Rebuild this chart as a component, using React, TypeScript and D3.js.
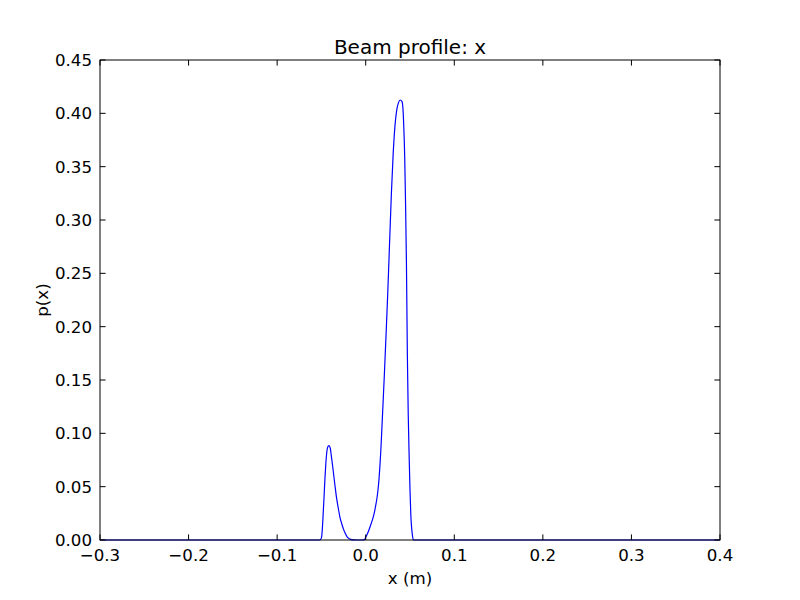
import React from "react";
import * as d3 from "d3";

const xs = [-0.3, -0.052, -0.05, -0.049, -0.048, -0.047, -0.046, -0.045, -0.044, -0.043, -0.0415, -0.04, -0.039, -0.037, -0.035, -0.033, -0.031, -0.029, -0.027, -0.025, -0.023, -0.021, -0.019, -0.017, -0.014, -0.01, -0.004, -0.001, 0.0, 0.003, 0.006, 0.009, 0.011, 0.013, 0.014, 0.015, 0.016, 0.017, 0.018, 0.019, 0.02, 0.021, 0.023, 0.025, 0.027, 0.029, 0.031, 0.033, 0.035, 0.037, 0.039, 0.041, 0.042, 0.043, 0.044, 0.045, 0.046, 0.047, 0.048, 0.049, 0.05, 0.051, 0.052, 0.053, 0.0537, 0.4];
const ps = [0, 0, 0.002, 0.01, 0.025, 0.041, 0.058, 0.072, 0.082, 0.087, 0.0885, 0.086, 0.08, 0.067, 0.053, 0.04, 0.03, 0.021, 0.015, 0.01, 0.006, 0.003, 0.0015, 0.0006, 0.0001, 0, 0, 0.0008, 0.0025, 0.008, 0.015, 0.023, 0.031, 0.041, 0.048, 0.057, 0.069, 0.083, 0.1, 0.118, 0.136, 0.154, 0.193, 0.234, 0.28, 0.325, 0.362, 0.388, 0.403, 0.41, 0.4125, 0.411, 0.405, 0.387, 0.36, 0.315, 0.258, 0.175, 0.118, 0.08, 0.047, 0.022, 0.01, 0.003, 0, 0];

const xTicks = [-0.3, -0.2, -0.1, 0.0, 0.1, 0.2, 0.3, 0.4];
const yTicks = [0.0, 0.05, 0.1, 0.15, 0.2, 0.25, 0.3, 0.35, 0.4, 0.45];

export default function App() {
  const W = 800, H = 600;
  const L = 100, R = 720, T = 60, B = 540;
  const x = d3.scaleLinear().domain([-0.3, 0.4]).range([L, R]);
  const y = d3.scaleLinear().domain([0, 0.45]).range([B, T]);
  const pts: [number, number][] = xs.map((v, i) => [v, ps[i]]);
  const line = d3.line<[number, number]>().x(d => x(d[0])).y(d => y(d[1])).curve(d3.curveMonotoneX);
  const font = "'DejaVu Sans', sans-serif";
  const tl = 5.6;
  return (
    <svg width={W} height={H} style={{ position: "absolute", left: 0, top: 0 }} fontFamily={font}>
      <rect width={W} height={H} fill="#fff" />
      <path d={line(pts) || ""} fill="none" stroke="#0000ff" strokeWidth={1.2} />
      <rect x={L} y={T} width={R - L} height={B - T} fill="none" stroke="#000" strokeWidth={1} />
      {xTicks.map(t => (
        <g key={"x" + t}>
          <line x1={x(t)} x2={x(t)} y1={B} y2={B - tl} stroke="#000" />
          <line x1={x(t)} x2={x(t)} y1={T} y2={T + tl} stroke="#000" />
          <text x={x(t)} y={B + 8} dy="0.76em" textAnchor="middle" fontSize={16.67}>{d3.format(".1f")(t)}</text>
        </g>
      ))}
      {yTicks.map(t => (
        <g key={"y" + t}>
          <line x1={L} x2={L + tl} y1={y(t)} y2={y(t)} stroke="#000" />
          <line x1={R} x2={R - tl} y1={y(t)} y2={y(t)} stroke="#000" />
          <text x={92} y={y(t)} dy="0.36em" textAnchor="end" fontSize={16.67}>{d3.format(".2f")(t)}</text>
        </g>
      ))}
      <text x={(L + R) / 2} y={54} textAnchor="middle" fontSize={20}>Beam profile: x</text>
      <text x={(L + R) / 2} y={584} textAnchor="middle" fontSize={16.67}>x (m)</text>
      <text transform={`translate(48,${(T + B) / 2}) rotate(-90)`} textAnchor="middle" fontSize={16.67}>p(x)</text>
    </svg>
  );
}
